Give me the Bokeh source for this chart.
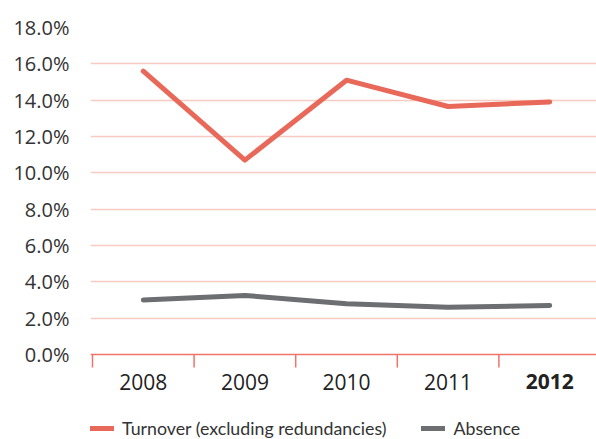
from bokeh.plotting import figure
from bokeh.models import Range1d, FixedTicker, PrintfTickFormatter, Span
from bokeh.core.properties import value
from bokeh.embed import file_html
from bokeh.resources import INLINE

years = ["2008", "2009", "2010", "2011", "2012"]
turnover = [15.6, 10.7, 15.1, 13.65, 13.9]
absence = [3.0, 3.25, 2.8, 2.6, 2.7]
year_styles = ["normal", "normal", "normal", "normal", "bold"]
y_ticks = [0, 2, 4, 6, 8, 10, 12, 14, 16, 18]

RED = "#E8695A"
GRAY = "#6D6E71"
GRID = "#F6CBC1"
AXIS = "#EC7468"
FONT = "Open Sans"

W, H = 596, 439
LEFT, TOP, BASE = 90, 27, 354          # frame left / top, pixel row of 0 %
CAT_W = 101.6                          # pixel width of one category
ymax = y_ticks[-1]
ppu = (BASE - TOP) / ymax              # pixels per percent
ymin = -(H - BASE) / ppu
x0 = -(92 - LEFT) / CAT_W
x1 = x0 + (W - LEFT) / CAT_W

xs = [i + 0.5 for i in range(len(years))]
bounds = [float(i) for i in range(len(years) + 1)]

p = figure(width=W, height=H, output_backend="svg", toolbar_location=None,
           x_range=Range1d(x0, x1), y_range=Range1d(ymin, ymax),
           min_border_left=LEFT, min_border_right=0, min_border_top=TOP,
           min_border_bottom=0)
p.outline_line_color = None

# grid
p.xgrid.grid_line_color = None
p.ygrid.ticker = FixedTicker(ticks=y_ticks[1:])
p.ygrid.grid_line_color = GRID
p.ygrid.grid_line_width = 1.5

# baseline and category boundary ticks
p.add_layout(Span(location=0, dimension="width", line_color=AXIS, line_width=1.5))
p.segment(x0=bounds, y0=[0] * len(bounds), x1=bounds, y1=[-13 / ppu] * len(bounds),
          line_color=AXIS, line_width=1.5)

r1 = p.line(xs, turnover, line_color=RED, line_width=5, line_cap="round", line_join="round",
            legend_label="Turnover (excluding redundancies)")
r2 = p.line(xs, absence, line_color=GRAY, line_width=5, line_cap="round", line_join="round",
            legend_label="Absence")

# category labels
p.text(x=xs, y=[-27 / ppu] * len(xs), text=years, text_font_style=year_styles,
       text_align="center", text_baseline="middle", text_font=value(FONT),
       text_font_size="21px", text_color="#222222")

# y axis
p.yaxis.ticker = FixedTicker(ticks=y_ticks)
p.yaxis.formatter = PrintfTickFormatter(format="%.1f%%")
p.yaxis.axis_line_color = None
p.yaxis.major_tick_line_color = None
p.yaxis.major_tick_out = 0
p.yaxis.major_tick_in = 0
p.yaxis.minor_tick_line_color = None
p.yaxis.major_label_standoff = 21
p.yaxis.major_label_text_font = FONT
p.yaxis.major_label_text_font_size = "20px"
p.yaxis.major_label_text_color = "#333333"
p.xaxis.visible = False

lg = p.legend[0]
lg.orientation = "horizontal"
lg.location = (0, 0)
lg.padding = 0
lg.margin = 0
lg.spacing = 35
lg.glyph_width = 24
lg.glyph_height = 20
lg.label_standoff = 8
lg.label_height = 20
lg.border_line_alpha = 0
lg.background_fill_alpha = 0
lg.label_text_font = "Lato"
lg.label_text_font_size = "17.8px"
lg.label_text_color = "#333333"

open("out.html", "w").write(file_html(p, INLINE))
